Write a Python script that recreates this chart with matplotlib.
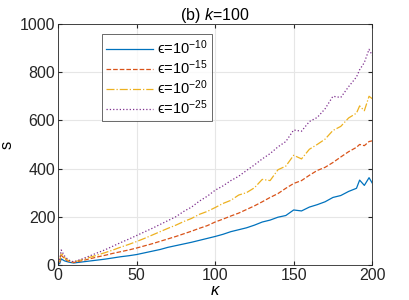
import matplotlib
matplotlib.use('Agg')
import matplotlib.pyplot as plt

kappa = [1, 2, 3, 4, 6, 8, 10, 15, 20, 25, 30, 35, 40, 45, 50, 55, 60, 65, 70, 75,
         80, 85, 90, 95, 100, 105, 110, 115, 120, 125, 130, 135, 140, 145, 150,
         155, 160, 165, 170, 175, 180, 185, 190, 192, 195, 198, 200]

s_eps10 = [5, 25, 21, 17, 13, 10, 8, 12, 16, 20, 24, 29, 34, 38, 43, 50, 57, 64, 73, 80,
           87, 94, 102, 110, 118, 127, 138, 146, 154, 165, 178, 186, 198, 205, 228,
           224, 240, 250, 262, 280, 288, 305, 318, 352, 330, 362, 340]
s_eps15 = [10, 40, 34, 26, 17, 12, 10, 17, 25, 33, 40, 48, 55, 62, 70, 79, 88, 98, 108, 118,
           129, 140, 152, 163, 178, 190, 203, 215, 230, 245, 262, 280, 296, 318, 338,
           350, 372, 392, 405, 425, 448, 470, 488, 500, 495, 512, 515]
s_eps20 = [15, 50, 42, 31, 20, 14, 12, 21, 31, 41, 51, 62, 74, 85, 97, 110, 124, 138, 152, 165,
           180, 193, 210, 222, 238, 255, 268, 290, 300, 320, 355, 350, 395, 410, 455,
           440, 480, 500, 522, 558, 575, 610, 630, 660, 640, 700, 690]
s_eps25 = [20, 62, 50, 38, 24, 16, 13, 24, 37, 50, 63, 78, 93, 107, 122, 137, 152, 168, 184, 200,
           222, 240, 265, 285, 310, 328, 350, 368, 392, 415, 440, 462, 490, 512, 560,
           555, 595, 612, 648, 700, 695, 740, 780, 810, 840, 895, 870]

labels = ['\u03f5=10$^{-10}$', '\u03f5=10$^{-15}$',
          '\u03f5=10$^{-20}$', '\u03f5=10$^{-25}$']

plt.rcParams['font.family'] = ['Liberation Sans', 'DejaVu Sans']
plt.rcParams['mathtext.fontset'] = 'custom'
plt.rcParams['mathtext.it'] = 'Liberation Sans:italic'
plt.rcParams['mathtext.rm'] = 'Liberation Sans'

fig = plt.figure(figsize=(4.09, 3.0), dpi=100)
ax = fig.add_axes([0.142, 0.117, 0.768, 0.803])

ax.plot(kappa, s_eps10, color='#0072BD', lw=0.9, ls='-', label=labels[0])
ax.plot(kappa, s_eps15, color='#D95319', lw=0.9, ls='--', label=labels[1])
ax.plot(kappa, s_eps20, color='#EDB120', lw=0.9, ls='-.', label=labels[2])
ax.plot(kappa, s_eps25, color='#7E2F8E', lw=0.9, ls=':', label=labels[3])

ax.set_xlim(0, 200)
ax.set_ylim(0, 1000)
ax.set_xticks([0, 50, 100, 150, 200])
ax.set_yticks([0, 200, 400, 600, 800, 1000])
ax.grid(True, color='#e6e6e6', lw=0.8)
ax.set_axisbelow(True)
ax.tick_params(direction='in', labelsize=11.5, length=3, color='#262626',
               labelcolor='#262626', top=True, right=True, pad=2)
for sp in ax.spines.values():
    sp.set_color('#262626')
    sp.set_linewidth(0.6)

ax.set_title('(b) $k$=100', fontsize=11.5, pad=3, color='#000000')
ax.set_xlabel('$\\kappa$', fontsize=12, labelpad=0)
ax.set_ylabel('s', fontsize=12, labelpad=4)

leg = ax.legend(loc='upper left', bbox_to_anchor=(0.14, 0.96), fontsize=10.5,
                frameon=True, fancybox=False, edgecolor='#262626', borderaxespad=0,
                handlelength=3.2, borderpad=0.3, labelspacing=0.1, handletextpad=0.3)
leg.get_frame().set_linewidth(0.6)

fig.savefig('out.png', dpi=100)
